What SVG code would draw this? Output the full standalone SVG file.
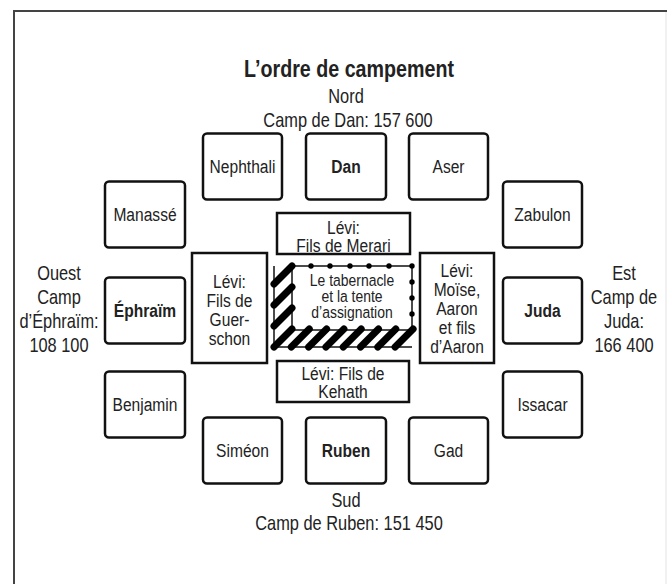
<svg xmlns="http://www.w3.org/2000/svg" width="667" height="584" viewBox="0 0 667 584">
<style>
text{font-family:"Liberation Sans",Arial,sans-serif;fill:#222;text-anchor:middle;transform-box:fill-box;transform-origin:50% 50%;transform:scaleX(0.82)}
.t{font-size:24px;font-weight:bold}
.d{font-size:20px}
.b{font-size:19px}
.bb{font-size:19px;font-weight:bold}
.l{font-size:19px}
.s{font-size:17px}
.tribe{fill:#fff;stroke:#111;stroke-width:2.5}
.levi{fill:#fff;stroke:#111;stroke-width:2.5}
.thin{fill:none;stroke:#111;stroke-width:1.5}
.hatch{stroke:#000;stroke-width:7;stroke-linecap:round}
</style>
<rect width="667" height="584" fill="#fff"/>
<path d="M14,584 V11 H667" fill="none" stroke="#444" stroke-width="2"/>
<line x1="666" y1="12" x2="666" y2="584" stroke="#e4e4e4" stroke-width="1"/>

<g id="title">
<text class="t" x="349" y="77">L’ordre de campement</text>
<text class="d" x="346" y="103">Nord</text>
<text class="d" x="348" y="127">Camp de Dan: 157 600</text>
<text class="d" x="346" y="507">Sud</text>
<text class="d" x="349" y="530">Camp de Ruben: 151 450</text>
</g>
<g id="ouest">
<text class="d" x="59" y="280">Ouest</text>
<text class="d" x="59" y="304">Camp</text>
<text class="d" x="59" y="328">d’Éphraïm:</text>
<text class="d" x="59" y="352">108 100</text>
</g>
<g id="est">
<text class="d" x="624" y="280">Est</text>
<text class="d" x="624" y="304">Camp de</text>
<text class="d" x="624" y="328">Juda:</text>
<text class="d" x="624" y="352">166 400</text>
</g>

<g id="nephthali"><rect class="tribe" x="203" y="133.5" width="79" height="66" rx="4"/><text class="b" x="242.5" y="173">Nephthali</text></g>
<g id="dan"><rect class="tribe" x="306" y="133.5" width="80" height="66" rx="4"/><text class="bb" x="346" y="173">Dan</text></g>
<g id="aser"><rect class="tribe" x="409" y="133.5" width="79" height="66" rx="4"/><text class="b" x="448.5" y="173">Aser</text></g>

<g id="manasse"><rect class="tribe" x="105" y="181.5" width="80" height="66" rx="4"/><text class="b" x="145" y="221">Manassé</text></g>
<g id="ephraim"><rect class="tribe" x="105" y="277.5" width="80" height="66" rx="4"/><text class="bb" x="145" y="317">Éphraïm</text></g>
<g id="benjamin"><rect class="tribe" x="105" y="371.5" width="80" height="66" rx="4"/><text class="b" x="145" y="411">Benjamin</text></g>

<g id="zabulon"><rect class="tribe" x="503" y="181.5" width="79" height="66" rx="4"/><text class="b" x="542.5" y="221">Zabulon</text></g>
<g id="juda"><rect class="tribe" x="503" y="277.5" width="79" height="66" rx="4"/><text class="bb" x="542.5" y="317">Juda</text></g>
<g id="issacar"><rect class="tribe" x="503" y="371.5" width="79" height="66" rx="4"/><text class="b" x="542.5" y="411">Issacar</text></g>

<g id="simeon"><rect class="tribe" x="203" y="417.5" width="79" height="66" rx="4"/><text class="b" x="242.5" y="457">Siméon</text></g>
<g id="ruben"><rect class="tribe" x="306" y="417.5" width="80" height="66" rx="4"/><text class="bb" x="346" y="457">Ruben</text></g>
<g id="gad"><rect class="tribe" x="409" y="417.5" width="79" height="66" rx="4"/><text class="b" x="448.5" y="457">Gad</text></g>

<g id="levi-merari"><rect class="levi" x="277" y="213" width="133" height="41"/><text class="l" x="343.5" y="234">Lévi:</text><text class="l" x="343.5" y="252">Fils de Merari</text></g>
<g id="levi-guerschon"><rect class="levi" x="192" y="253" width="75" height="110"/><text class="l" x="229.5" y="288">Lévi:</text><text class="l" x="229.5" y="307">Fils de</text><text class="l" x="229.5" y="326">Guer-</text><text class="l" x="229.5" y="345">schon</text></g>
<g id="levi-moise"><rect class="levi" x="420" y="253" width="74" height="110"/><text class="l" x="457" y="277">Lévi:</text><text class="l" x="457" y="296">Moïse,</text><text class="l" x="457" y="315">Aaron</text><text class="l" x="457" y="334">et fils</text><text class="l" x="457" y="353">d’Aaron</text></g>
<g id="levi-kehath"><rect class="levi" x="277" y="361" width="132" height="41"/><text class="l" x="343" y="380">Lévi: Fils de</text><text class="l" x="343" y="398">Kehath</text></g>

<g id="tabernacle">
<rect class="thin" x="292" y="266" width="120" height="64"/>
<path class="thin" d="M274,266 V347 H412"/>
<g fill="#000">
<circle cx="311" cy="266" r="2.7"/><circle cx="330" cy="266" r="2.7"/><circle cx="350" cy="266" r="2.7"/><circle cx="369" cy="266" r="2.7"/><circle cx="389" cy="266" r="2.7"/><circle cx="412" cy="266" r="2.7"/>
<circle cx="412" cy="282" r="2.7"/><circle cx="412" cy="298" r="2.7"/><circle cx="412" cy="314" r="2.7"/>
</g>
<g class="hatch">
<line x1="274" y1="284" x2="292" y2="266"/>
<line x1="274" y1="305" x2="292" y2="287"/>
<line x1="274" y1="326" x2="292" y2="308"/>
<line x1="274" y1="347" x2="292" y2="329"/>
<line x1="291.3" y1="347" x2="309.3" y2="329"/>
<line x1="308.6" y1="347" x2="326.6" y2="329"/>
<line x1="325.9" y1="347" x2="343.9" y2="329"/>
<line x1="343.2" y1="347" x2="361.2" y2="329"/>
<line x1="360.5" y1="347" x2="378.5" y2="329"/>
<line x1="377.8" y1="347" x2="395.8" y2="329"/>
<line x1="395.1" y1="347" x2="413.1" y2="329"/>
</g>
<text class="s" x="352" y="286">Le tabernacle</text>
<text class="s" x="352" y="302">et la tente</text>
<text class="s" x="352" y="318">d’assignation</text>
</g>
<g id="connectors"/>
</svg>
